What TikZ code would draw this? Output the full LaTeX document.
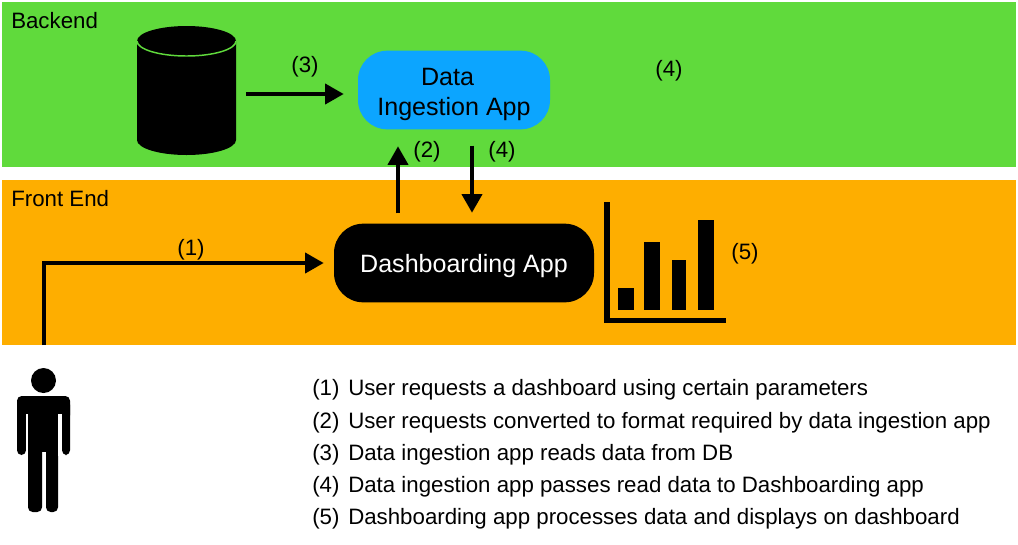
\documentclass[tikz,border=0pt]{standalone}
\usepackage{fontspec}
\setmainfont{Liberation Sans}
\usetikzlibrary{arrows.meta}

\definecolor{backendgreen}{RGB}{96,218,60}
\definecolor{frontorange}{RGB}{254,174,0}
\definecolor{appblue}{RGB}{12,165,255}

\tikzset{
  flow/.style={line width=3pt,-{Triangle[length=14pt,width=15pt]}},
  label/.style={font=\fontsize{16.7}{20}\selectfont,inner sep=0pt},
  listitem/.style={label,anchor=west},
  appbox/.style={rounded corners=22pt,minimum height=59pt,inner sep=0pt,align=center,font=\fontsize{18.8}{22.5}\selectfont},
  limb/.style={rounded corners=3.5pt}
}

\begin{document}
\begin{tikzpicture}[x=0.75pt,y=-0.75pt]
  \useasboundingbox (0, 0) rectangle (1018, 544);

  \fill[backendgreen] (2, 2) rectangle (1016, 167);
  \fill[frontorange] (2, 180) rectangle (1016, 345);

  \node [label, anchor=west] (backend) at (11, 21) {Backend};
  \node [label, anchor=west] (frontend) at (11, 199) {Front End};

  % database
  \fill (137, 41) arc (180:360:49.5 and 15) -- (236, 140) arc (0:180:49.5 and 15) -- cycle;
  \draw[backendgreen, line width=1.1pt] (137, 41) arc (180:0:49.5 and 15);
  \node [minimum width=74.25pt, minimum height=96.75pt, inner sep=0pt] (db) at (186.5, 90.5) {};

  \node [appbox, fill=appblue, minimum width=144pt] (ingest) at (454, 90) {\rule{0pt}{19pt}Data\hspace*{9.75pt}\\Ingestion App};
  \node [appbox, fill=black, text=white, minimum width=195pt] (dash) at (464, 263) {\rule{0pt}{17.5pt}Dashboarding App};

  \coordinate (user) at (44, 345);
  \coordinate (upcol) at (398, 0);
  \coordinate (downcol) at (472, 0);
  \coordinate (readrow) at (0, 94);

  \draw[flow, shorten <=7.5pt, shorten >=10.5pt] (db.east |- readrow) -- (ingest.west |- readrow);
  \draw[flow, shorten <=7.5pt, shorten >=12.5pt] (upcol |- dash.north) -- (upcol |- ingest.south);
  \draw[flow, shorten <=12pt, shorten >=8pt] (downcol |- ingest.south) -- (downcol |- dash.north);
  \draw[flow, shorten >=7.5pt] (user) |- (dash.west);

  \node [label] (l3) at (305, 67) {(3)};
  \node [label] (l4top) at (669, 71) {(4)};
  \node [label] (l2) at (427, 152) {(2)};
  \node [label] (l4) at (502, 152) {(4)};
  \node [label] (l1) at (191, 250) {(1)};
  \node [label] (l5) at (745, 254) {(5)};

  % chart
  \fill (604, 202) rectangle (610, 323);
  \fill (604, 318) rectangle (726, 323);
  \foreach \left/\right/\top in {618/634/288, 644/660/242, 672/686/260, 698/714/220}
    \fill (\left, \top) rectangle (\right, 310);

  % person
  \fill (43.5, 380.5) circle (12.5);
  \fill[limb] (17, 396) rectangle (70, 420);
  \fill[limb] (17, 400) rectangle (26, 455);
  \fill[limb] (62, 400) rectangle (70, 455);
  \fill (27, 396) rectangle (58, 452);
  \fill[limb] (28, 440) rectangle (42, 512);
  \fill[limb] (46, 440) rectangle (58, 512);
  \fill[white] (26, 414) rectangle (27.5, 456);
  \fill[white] (58, 414) rectangle (62, 456);

  % legend
  \foreach \n/\y/\t in {1/390/User requests a dashboard using certain parameters,
                        2/423/User requests converted to format required by data ingestion app,
                        3/455/Data ingestion app reads data from DB,
                        4/487/Data ingestion app passes read data to Dashboarding app,
                        5/519/Dashboarding app processes data and displays on dashboard} {
    \node [listitem] (num\n) at (312, \y) {(\n)};
    \node [listitem] (item\n) at (348, \y) {\t};
  }
\end{tikzpicture}
\end{document}
